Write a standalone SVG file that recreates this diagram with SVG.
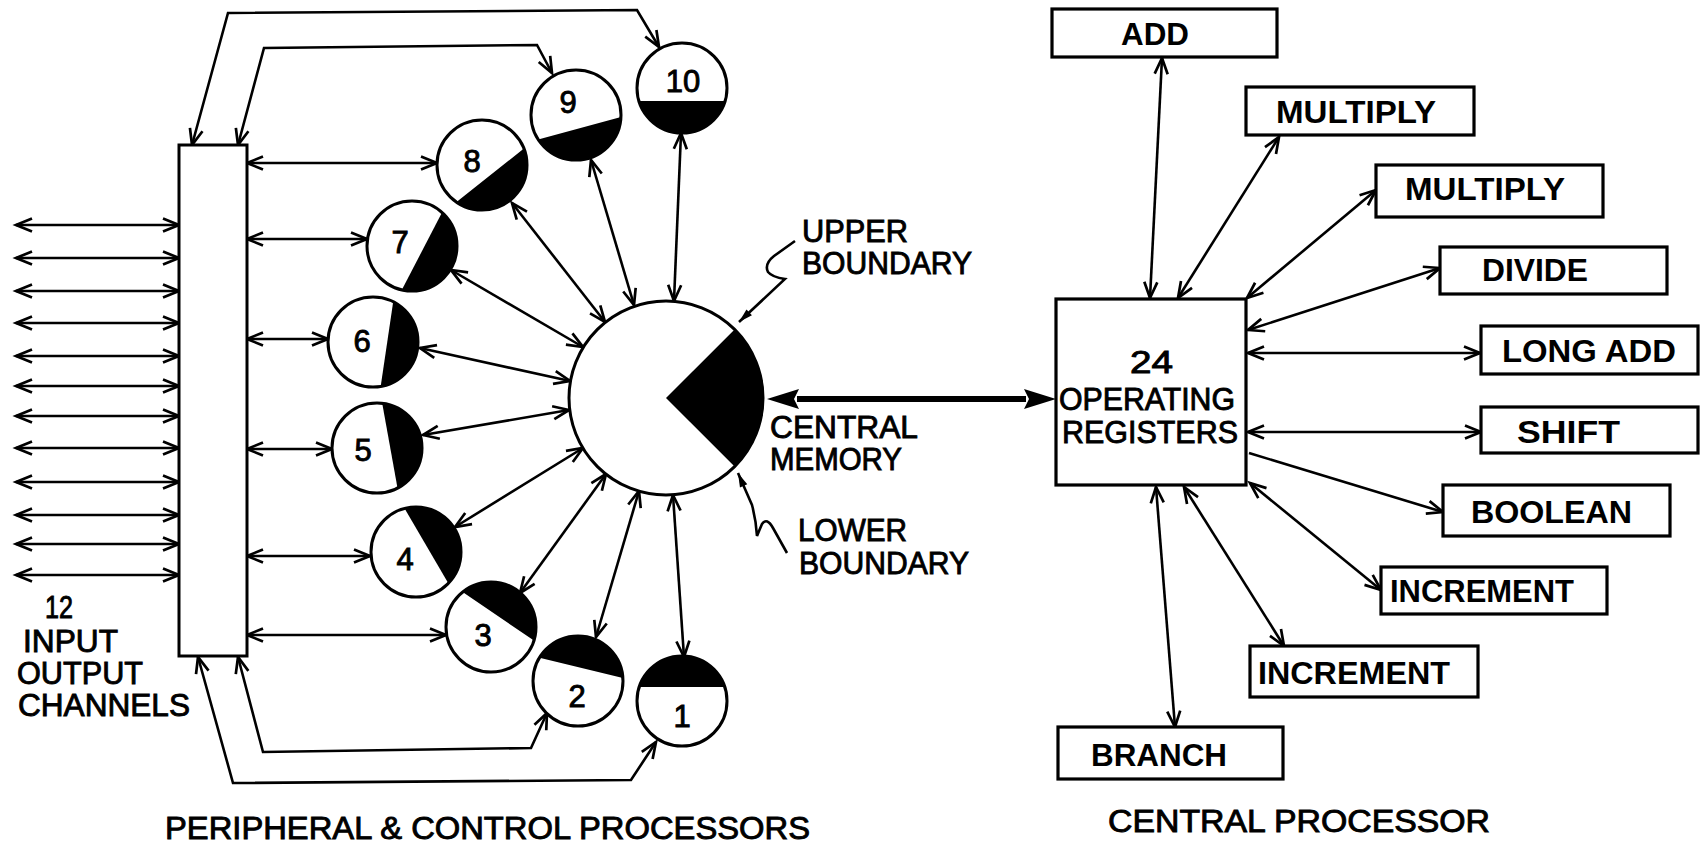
<svg xmlns="http://www.w3.org/2000/svg" width="1701" height="844" viewBox="0 0 1701 844">
<style>
  .ln { fill: none; stroke: #000; stroke-width: 2.6; }
  .bi { marker-start: url(#oa); marker-end: url(#oa); }
  .one { marker-end: url(#oa); }
  .cir { fill: #fff; stroke: #000; stroke-width: 3; }
  .seg { fill: #000; }
  .box { fill: #fff; stroke: #000; stroke-width: 3.2; }
  .t { font-family: "Liberation Sans", Arial, sans-serif; font-size: 31px; fill: #000; stroke: #000; stroke-width: 0.9; }
  .tb { font-family: "Liberation Sans", Arial, sans-serif; font-size: 31px; font-weight: bold; fill: #000; }
  .num { font-family: "Liberation Sans", Arial, sans-serif; font-size: 31px; fill: #000; stroke: #000; stroke-width: 0.9; text-anchor: middle; }
</style>
<defs>
  <marker id="oa" viewBox="0 0 18 16" refX="17" refY="8" markerWidth="18" markerHeight="16" markerUnits="userSpaceOnUse" orient="auto-start-reverse" style="overflow:visible">
    <path d="M1,1.5 L17,8 L1,14.5" fill="none" stroke="#000" stroke-width="2.7"/>
  </marker>
  <marker id="fa" viewBox="0 0 30 22" refX="0" refY="11" markerWidth="30" markerHeight="22" markerUnits="userSpaceOnUse" orient="auto-start-reverse" style="overflow:visible">
    <path d="M-2,1 L30,11 L-2,21 L3,11 Z" fill="#000"/>
  </marker>
  <marker id="ca" viewBox="0 0 14 8" refX="14" refY="4" markerWidth="14" markerHeight="8" markerUnits="userSpaceOnUse" orient="auto" style="overflow:visible">
    <path d="M0,0 L14,4 L0,8 Z" fill="#000"/>
  </marker>
</defs>
<rect width="1701" height="844" fill="#fff"/>

<g id="connectors">
  <!-- input/output channels -->
  <g class="ln bi">
    <line x1="16" y1="225" x2="179" y2="225"/>
    <line x1="16" y1="258" x2="179" y2="258"/>
    <line x1="16" y1="291" x2="179" y2="291"/>
    <line x1="16" y1="323" x2="179" y2="323"/>
    <line x1="16" y1="356" x2="179" y2="356"/>
    <line x1="16" y1="386" x2="179" y2="386"/>
    <line x1="16" y1="416" x2="179" y2="416"/>
    <line x1="16" y1="448" x2="179" y2="448"/>
    <line x1="16" y1="482" x2="179" y2="482"/>
    <line x1="16" y1="515" x2="179" y2="515"/>
    <line x1="16" y1="544" x2="179" y2="544"/>
    <line x1="16" y1="575" x2="179" y2="575"/>
  </g>
  <!-- channel bank to peripheral processors -->
  <g class="ln bi">
    <line x1="247" y1="163" x2="437" y2="163"/>
    <line x1="247" y1="239" x2="367" y2="239"/>
    <line x1="247" y1="339" x2="328" y2="339"/>
    <line x1="247" y1="449" x2="332" y2="449"/>
    <line x1="247" y1="556" x2="370" y2="556"/>
    <line x1="247" y1="635" x2="446" y2="635"/>
  </g>
  <!-- loops -->
  <g class="ln bi">
    <polyline points="192,145 228,13 637,10 659,47"/>
    <polyline points="238,145 264,48 537,45 552,73"/>
    <polyline points="238,657 263,752 531,748 547,713"/>
    <polyline points="198,657 233,783 631,780 656,742"/>
  </g>
  <!-- memory to peripheral processors -->
  <g class="ln bi">
    <line x1="681" y1="133" x2="674" y2="301"/>
    <line x1="591" y1="160" x2="634" y2="305"/>
    <line x1="512" y1="203" x2="605" y2="322"/>
    <line x1="451" y1="270" x2="583" y2="347"/>
    <line x1="420" y1="348" x2="570" y2="381"/>
    <line x1="423" y1="435" x2="569" y2="410"/>
    <line x1="455" y1="527" x2="583" y2="448"/>
    <line x1="520" y1="593" x2="606" y2="474"/>
    <line x1="596" y1="637" x2="639" y2="491"/>
    <line x1="684" y1="657" x2="673" y2="495"/>
  </g>
  <!-- memory to registers -->
  <line x1="797" y1="399" x2="1026" y2="399" stroke="#000" stroke-width="6" marker-start="url(#fa)" marker-end="url(#fa)"/>
  <!-- boundary callouts -->
  <path class="ln" d="M795,241 L774,256 Q764,264 768,272 Q772,277 785,279 L739,322" marker-end="url(#ca)"/>
  <path class="ln" d="M787,553 L773,528 Q767,517 762,524 Q759,531 757,536 Q756,520 752,505 L738,473" marker-end="url(#ca)"/>
  <!-- registers to functional units -->
  <g class="ln bi">
    <line x1="1162" y1="58" x2="1150" y2="298"/>
    <line x1="1279" y1="137" x2="1178" y2="298"/>
    <line x1="1376" y1="190" x2="1247" y2="298"/>
    <line x1="1440" y1="268" x2="1248" y2="330"/>
    <line x1="1480" y1="353" x2="1248" y2="353"/>
    <line x1="1481" y1="432" x2="1248" y2="432"/>
    <line x1="1250" y1="483" x2="1381" y2="590"/>
    <line x1="1184" y1="487" x2="1284" y2="646"/>
    <line x1="1156" y1="487" x2="1175" y2="727"/>
  </g>
  <line class="ln one" x1="1249" y1="453" x2="1443" y2="512"/>
</g>

<g id="io-bank">
  <rect x="179" y="145" width="68" height="511" fill="#fff" stroke="#000" stroke-width="3"/>
</g>
<g id="io-label">
  <text class="t" x="45" y="618" textLength="28" lengthAdjust="spacingAndGlyphs">12</text>
  <text class="t" x="23" y="652" textLength="95" lengthAdjust="spacingAndGlyphs">INPUT</text>
  <text class="t" x="17" y="684" textLength="126" lengthAdjust="spacingAndGlyphs">OUTPUT</text>
  <text class="t" x="18" y="716" textLength="172" lengthAdjust="spacingAndGlyphs">CHANNELS</text>
</g>

<g id="pp10">
  <circle class="cir" cx="682" cy="88" r="45"/>
  <path class="seg" d="M725.1,101 A45,45 0 0 1 638.9,101 Z"/>
  <text class="num" x="683" y="92">10</text>
</g>
<g id="pp9">
  <circle class="cir" cx="576" cy="115" r="45"/>
  <path class="seg" d="M621,117 A45,45 0 0 1 538.2,139.4 Z"/>
  <text class="num" x="568" y="113">9</text>
</g>
<g id="pp8">
  <circle class="cir" cx="482" cy="165" r="45"/>
  <path class="seg" d="M523.9,148.5 A45,45 0 0 1 456.5,202.1 Z"/>
  <text class="num" x="472" y="172">8</text>
</g>
<g id="pp7">
  <circle class="cir" cx="412" cy="246" r="45"/>
  <path class="seg" d="M442,212.5 A45,45 0 0 1 401.9,289.8 Z"/>
  <text class="num" x="400" y="253">7</text>
</g>
<g id="pp6">
  <circle class="cir" cx="373" cy="342" r="45"/>
  <path class="seg" d="M393.2,301.8 A45,45 0 0 1 380.7,386.3 Z"/>
  <text class="num" x="362" y="352">6</text>
</g>
<g id="pp5">
  <circle class="cir" cx="377" cy="448" r="45"/>
  <path class="seg" d="M382.2,403.3 A45,45 0 0 1 397.5,488.1 Z"/>
  <text class="num" x="363" y="461">5</text>
</g>
<g id="pp4">
  <circle class="cir" cx="416" cy="552" r="45"/>
  <path class="seg" d="M404.6,508.5 A45,45 0 0 1 448.3,583.3 Z"/>
  <text class="num" x="405" y="570">4</text>
</g>
<g id="pp3">
  <circle class="cir" cx="491" cy="627" r="45"/>
  <path class="seg" d="M462.6,592.1 A45,45 0 0 1 533.9,640.6 Z"/>
  <text class="num" x="483" y="646">3</text>
</g>
<g id="pp2">
  <circle class="cir" cx="578" cy="681" r="45"/>
  <path class="seg" d="M539.5,657.7 A45,45 0 0 1 622.9,677.9 Z"/>
  <text class="num" x="577" y="707">2</text>
</g>
<g id="pp1">
  <circle class="cir" cx="682" cy="701" r="45"/>
  <path class="seg" d="M639.2,687 A45,45 0 0 1 724.8,687 Z"/>
  <text class="num" x="682" y="727">1</text>
</g>

<g id="central-memory">
  <circle class="cir" cx="666" cy="398" r="97"/>
  <path class="seg" d="M666,398 L734.6,329.4 A97,97 0 0 1 734.6,466.6 Z"/>
  <text class="t" x="770" y="438" textLength="148" lengthAdjust="spacingAndGlyphs">CENTRAL</text>
  <text class="t" x="770" y="470" textLength="132" lengthAdjust="spacingAndGlyphs">MEMORY</text>
</g>
<g id="upper-boundary">
  <text class="t" x="802" y="242" textLength="106" lengthAdjust="spacingAndGlyphs">UPPER</text>
  <text class="t" x="802" y="274" textLength="170" lengthAdjust="spacingAndGlyphs">BOUNDARY</text>
</g>
<g id="lower-boundary">
  <text class="t" x="798" y="541" textLength="109" lengthAdjust="spacingAndGlyphs">LOWER</text>
  <text class="t" x="799" y="574" textLength="170" lengthAdjust="spacingAndGlyphs">BOUNDARY</text>
</g>

<g id="registers">
  <rect class="box" x="1056" y="299" width="190" height="186"/>
  <text class="t" x="1130" y="373" textLength="43" lengthAdjust="spacingAndGlyphs">24</text>
  <text class="t" x="1059" y="410" textLength="176" lengthAdjust="spacingAndGlyphs">OPERATING</text>
  <text class="t" x="1062" y="443" textLength="176" lengthAdjust="spacingAndGlyphs">REGISTERS</text>
</g>

<g id="add">
  <rect class="box" x="1052" y="9" width="225" height="48"/>
  <text class="tb" x="1121" y="45" textLength="68" lengthAdjust="spacingAndGlyphs">ADD</text>
</g>
<g id="multiply1">
  <rect class="box" x="1246" y="87" width="228" height="48"/>
  <text class="tb" x="1276" y="123" textLength="160" lengthAdjust="spacingAndGlyphs">MULTIPLY</text>
</g>
<g id="multiply2">
  <rect class="box" x="1376" y="165" width="227" height="52"/>
  <text class="tb" x="1405" y="200" textLength="160" lengthAdjust="spacingAndGlyphs">MULTIPLY</text>
</g>
<g id="divide">
  <rect class="box" x="1440" y="247" width="227" height="47"/>
  <text class="tb" x="1482" y="281" textLength="106" lengthAdjust="spacingAndGlyphs">DIVIDE</text>
</g>
<g id="long-add">
  <rect class="box" x="1481" y="326" width="217" height="48"/>
  <text class="tb" x="1502" y="362" textLength="174" lengthAdjust="spacingAndGlyphs">LONG ADD</text>
</g>
<g id="shift">
  <rect class="box" x="1481" y="407" width="217" height="46"/>
  <text class="tb" x="1517" y="443" textLength="103" lengthAdjust="spacingAndGlyphs">SHIFT</text>
</g>
<g id="boolean">
  <rect class="box" x="1443" y="485" width="227" height="51"/>
  <text class="tb" x="1471" y="523" textLength="161" lengthAdjust="spacingAndGlyphs">BOOLEAN</text>
</g>
<g id="increment1">
  <rect class="box" x="1381" y="567" width="226" height="47"/>
  <text class="tb" x="1390" y="602" textLength="184" lengthAdjust="spacingAndGlyphs">INCREMENT</text>
</g>
<g id="increment2">
  <rect class="box" x="1250" y="646" width="228" height="51"/>
  <text class="tb" x="1258" y="684" textLength="192" lengthAdjust="spacingAndGlyphs">INCREMENT</text>
</g>
<g id="branch">
  <rect class="box" x="1058" y="727" width="225" height="52"/>
  <text class="tb" x="1091" y="766" textLength="136" lengthAdjust="spacingAndGlyphs">BRANCH</text>
</g>

<g id="captions">
  <text class="t" x="165" y="839" textLength="645" lengthAdjust="spacingAndGlyphs">PERIPHERAL &amp; CONTROL PROCESSORS</text>
  <text class="t" x="1108" y="832" textLength="382" lengthAdjust="spacingAndGlyphs">CENTRAL PROCESSOR</text>
</g>
</svg>
